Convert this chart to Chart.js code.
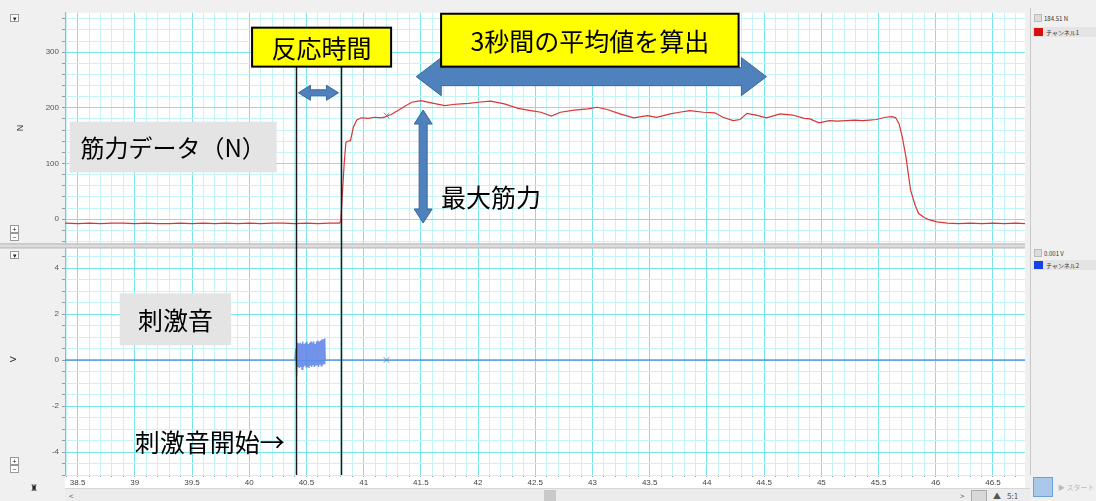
<!DOCTYPE html>
<html>
<head>
<meta charset="utf-8">
<script src="https://cdn.jsdelivr.net/npm/chart.js@4"></script>
<style>
  body { margin: 0; width: 1096px; height: 501px; overflow: hidden; background: #f0f0f0; font-family: "Noto Sans CJK JP", "Noto Sans", sans-serif; position: relative; }
  #wrap { position: absolute; left: 0; top: 5px; width: 1030px; height: 483px; }
  .side { position: absolute; left: 1030px; width: 66px; border-left: 1px solid #c8c8c8; background: #f0f0f0; }
  .dd { position: absolute; left: 3px; width: 6px; height: 6px; background: #dcdcdc; border: 1px solid #bbb; }
  .val { position: absolute; left: 13px; font-size: 6px; color: #333; white-space: nowrap; }
  .row { position: absolute; left: 1px; width: 65px; height: 10px; background: #e4e4e4; }
  .sq { position: absolute; left: 2px; top: 1px; width: 9px; height: 8px; }
  .name { position: absolute; left: 14px; top: 1px; font-size: 6px; color: #333; white-space: nowrap; }
  .btn { position: absolute; left: 10px; width: 7px; height: 6px; background: #fff; border: 1px solid #999; font-size: 7px; line-height: 6px; text-align: center; color: #222; }
  #scroll { position: absolute; left: 65px; top: 488px; width: 965px; height: 13px; background: #ececec; border-top: 1px solid #d6d6d6; font-size: 8px; color: #555; }
</style>
</head>
<body>
<div id="wrap"><canvas id="chart"></canvas></div>

<div class="btn" style="top:14px">▾</div>
<div class="btn" style="top:225px">+</div>
<div class="btn" style="top:233px">−</div>
<div class="btn" style="top:251px">▾</div>
<div class="btn" style="top:457px">+</div>
<div class="btn" style="top:465px">−</div>
<div style="position:absolute;left:30px;top:481px;font-size:9px;color:#222">♜</div>

<div class="side" style="top:8px;height:236px">
  <div class="dd" style="top:6px"></div>
  <div class="val" style="top:6px">184.51 N</div>
  <div class="row" style="top:19px"><div class="sq" style="background:#d41010"></div><div class="name">チャンネル1</div></div>
</div>
<div class="side" style="top:244px;height:231px">
  <div class="dd" style="top:5px"></div>
  <div class="val" style="top:5px">0.001 V</div>
  <div class="row" style="top:16px"><div class="sq" style="background:#1440e6"></div><div class="name">チャンネル2</div></div>
</div>
<div style="position:absolute;left:1030px;top:475px;width:66px;height:26px;background:#f0f0f0">
  <div style="position:absolute;left:3px;top:2px;width:18px;height:18px;background:#a9c8ea;border:1px solid #6e9fd6"></div>
  <div style="position:absolute;left:28px;top:7px;font-size:7px;color:#bbb;white-space:nowrap">▶ スタート</div>
</div>

<div id="scroll">
  <span style="position:absolute;left:4px;top:1px">&lt;</span>
  <div style="position:absolute;left:479px;top:1px;width:12px;height:11px;background:#c9c9c9"></div>
  <span style="position:absolute;left:895px;top:1px">&gt;</span>
  <div style="position:absolute;left:906px;top:1px;width:14px;height:10px;background:#d8d8d8;border:1px solid #aaa"></div>
  <span style="position:absolute;left:928px;top:1px">▲</span>
  <span style="position:absolute;left:942px;top:1px">5:1</span>
</div>

<script>
// time axis (s)
const xMin = 38.39;
const xMax = 46.78;
const xLabelTicks = [38.5, 39, 39.5, 40, 40.5, 41, 41.5, 42, 42.5, 43, 43.5, 44, 44.5, 45, 45.5, 46, 46.5];

// channel 1: force (N)
const forceTime = [38.39, 38.5, 38.6, 38.7, 38.8, 38.9, 39.0, 39.1, 39.2, 39.3, 39.4, 39.5, 39.6, 39.7,
  39.8, 39.9, 40.0, 40.1, 40.2, 40.3, 40.4, 40.5, 40.6, 40.7, 40.79,
  40.80, 40.83, 40.845, 40.86, 40.885, 40.91, 40.94, 40.98, 41.04, 41.1, 41.15, 41.19, 41.24, 41.30,
  41.36, 41.42, 41.5, 41.59, 41.71, 41.78, 41.85, 41.92, 42.0, 42.11, 42.23, 42.35, 42.46, 42.55,
  42.64, 42.72, 42.84, 42.96, 43.04, 43.13, 43.24, 43.36, 43.48, 43.56, 43.68, 43.76, 43.85, 43.97,
  44.07, 44.14, 44.23, 44.29, 44.35, 44.43, 44.52, 44.64, 44.75, 44.85, 44.9, 44.98, 45.07, 45.14,
  45.22, 45.29, 45.36, 45.42, 45.48, 45.56, 45.62, 45.65, 45.68, 45.71, 45.74, 45.78, 45.82, 45.85,
  45.9, 45.94, 46.01, 46.1, 46.2, 46.3, 46.4, 46.5, 46.6, 46.7, 46.78];
const forceValue = [-7, -8, -7, -8, -7, -7, -8, -7, -8, -8, -7, -8, -7, -8,
  -7, -8, -7, -8, -7, -7, -8, -7, -8, -7, -7,
  -3, 100, 138, 140, 141, 165, 178, 182, 181, 183, 182, 184, 188, 195,
  203, 210, 213, 209, 204, 206, 207, 208, 210, 212, 207, 199, 195, 192,
  185, 192, 196, 198, 201, 197, 189, 182, 186, 183, 189, 192, 195, 192,
  191, 183, 177, 179, 190, 187, 182, 189, 187, 181, 180, 173, 177, 176,
  177, 178, 177, 178, 179, 183, 184, 182, 171, 145, 111, 52, 25, 10,
  3, -1, -5, -7, -8, -7, -8, -7, -8, -7, -8];
const forceLabelTicks = [0, 100, 200, 300];

// channel 2: stimulus sound (V)
const soundTime = [38.39, 40.40, 40.408, 40.414, 40.42, 40.426, 40.432, 40.438, 40.444, 40.45, 40.456,
  40.462, 40.468, 40.474, 40.48, 40.486, 40.492, 40.498, 40.504, 40.51, 40.516, 40.522, 40.528,
  40.534, 40.54, 40.546, 40.552, 40.558, 40.564, 40.57, 40.576, 40.582, 40.588, 40.594, 40.60,
  40.606, 40.612, 40.618, 40.624, 40.63, 40.636, 40.642, 40.648, 40.654, 40.66, 40.664, 46.78];
const soundValue = [0, 0, 0.5, -0.7, 0.75, -0.3, 0.7, -0.35, 0.75, -0.3, 0.7,
  -0.4, 0.8, -0.3, 0.7, -0.25, 0.75, -0.3, 0.8, -0.3, 0.7, -0.35, 0.75,
  -0.25, 0.8, -0.3, 0.75, -0.2, 0.8, -0.3, 0.7, -0.25, 0.8, -0.2, 0.85,
  -0.3, 0.8, -0.2, 0.85, -0.25, 0.9, -0.2, 0.9, -0.15, 0.95, 0, 0];
const soundLabelTicks = [-4, -2, 0, 2, 4];

// cursor marks
const cursorTime = 41.2;
const cursorForce = 186;
const cursorSound = 0;

// annotation anchors (data units)
const reactionStart = 40.407;
const reactionEnd = 40.798;

const gridMajor = 'rgb(118,228,234)';
const gridMinor = 'rgb(196,244,246)';

function stepTicks(from, to, step) {
  const out = [];
  const n = Math.round((to - from) / step);
  for (let i = 0; i <= n; i++) out.push(Math.round((from + i * step) * 1000) / 1000);
  return out;
}
const isIn = (list, v) => list.some(t => Math.abs(t - v) < 1e-6);

const pairs = (xs, ys) => xs.map((x, i) => ({ x: x, y: ys[i] }));

function hArrow(ctx, x1, x2, y, head, hh, sh) {
  ctx.beginPath();
  ctx.moveTo(x1, y);
  ctx.lineTo(x1 + head, y - hh);
  ctx.lineTo(x1 + head, y - sh);
  ctx.lineTo(x2 - head, y - sh);
  ctx.lineTo(x2 - head, y - hh);
  ctx.lineTo(x2, y);
  ctx.lineTo(x2 - head, y + hh);
  ctx.lineTo(x2 - head, y + sh);
  ctx.lineTo(x1 + head, y + sh);
  ctx.lineTo(x1 + head, y + hh);
  ctx.closePath();
  ctx.fillStyle = '#4f81bd';
  ctx.fill();
  ctx.strokeStyle = '#3a6799';
  ctx.lineWidth = 1;
  ctx.stroke();
}
function vArrow(ctx, x, y1, y2, head, hh, sh) {
  ctx.beginPath();
  ctx.moveTo(x, y1);
  ctx.lineTo(x + hh, y1 + head);
  ctx.lineTo(x + sh, y1 + head);
  ctx.lineTo(x + sh, y2 - head);
  ctx.lineTo(x + hh, y2 - head);
  ctx.lineTo(x, y2);
  ctx.lineTo(x - hh, y2 - head);
  ctx.lineTo(x - sh, y2 - head);
  ctx.lineTo(x - sh, y1 + head);
  ctx.lineTo(x - hh, y1 + head);
  ctx.closePath();
  ctx.fillStyle = '#4f81bd';
  ctx.fill();
  ctx.strokeStyle = '#3a6799';
  ctx.lineWidth = 1;
  ctx.stroke();
}
function box(ctx, x1, y1, x2, y2, fill, border, text, size) {
  ctx.fillStyle = fill;
  ctx.fillRect(x1, y1, x2 - x1, y2 - y1);
  if (border) {
    ctx.strokeStyle = border;
    ctx.lineWidth = 2;
    ctx.strokeRect(x1, y1, x2 - x1, y2 - y1);
  }
  ctx.fillStyle = '#000';
  ctx.font = size + 'px "Noto Sans CJK JP"';
  ctx.textAlign = 'center';
  ctx.textBaseline = 'middle';
  ctx.fillText(text, (x1 + x2) / 2, (y1 + y2) / 2 + 1);
}

const decor = {
  id: 'decor',
  beforeDraw(chart) {
    const { ctx, chartArea } = chart;
    ctx.save();
    ctx.fillStyle = '#ffffff';
    ctx.fillRect(chartArea.left, chartArea.top, chartArea.right - chartArea.left, chart.height - chartArea.top);
    ctx.restore();
  },
  beforeDatasetsDraw(chart) {
    const { ctx, chartArea, scales } = chart;
    const y = scales.yN.bottom;
    ctx.save();
    ctx.fillStyle = '#dcdcdc';
    ctx.fillRect(0, y, chartArea.right, 5);
    ctx.fillStyle = '#b8b8b8';
    ctx.fillRect(0, y, chartArea.right, 1);
    ctx.fillRect(0, y + 4, chartArea.right, 1);
    ctx.restore();
  },
  afterDatasetsDraw(chart) {
    const { ctx, scales } = chart;
    const x = scales.x, yN = scales.yN, yV = scales.yV;
    ctx.save();

    // reaction time markers
    ctx.strokeStyle = '#1a1a1a';
    ctx.lineWidth = 1.5;
    [reactionStart, reactionEnd].forEach(t => {
      const px = Math.round(x.getPixelForValue(t)) + 0.5;
      ctx.beginPath();
      ctx.moveTo(px, yN.getPixelForValue(274));
      ctx.lineTo(px, yV.bottom);
      ctx.stroke();
    });

    // arrows
    hArrow(ctx, x.getPixelForValue(40.43), x.getPixelForValue(40.78), yN.getPixelForValue(227), 12, 7.5, 3);
    hArrow(ctx, x.getPixelForValue(41.46), x.getPixelForValue(44.52), yN.getPixelForValue(256), 25, 19, 9);
    vArrow(ctx, x.getPixelForValue(41.52), yN.getPixelForValue(196), yN.getPixelForValue(-7), 14, 9, 4);

    // labels
    box(ctx, x.getPixelForValue(40.025), yN.getPixelForValue(344), x.getPixelForValue(41.24), yN.getPixelForValue(274), '#ffff00', '#000', '反応時間', 25);
    box(ctx, x.getPixelForValue(41.677), yN.getPixelForValue(369), x.getPixelForValue(44.277), yN.getPixelForValue(274), '#ffff00', '#000', '3秒間の平均値を算出', 25);
    box(ctx, x.getPixelForValue(38.43), yN.getPixelForValue(175), x.getPixelForValue(40.24), yN.getPixelForValue(84), '#e4e4e4', null, '筋力データ（N）', 24);
    box(ctx, x.getPixelForValue(38.868), yV.getPixelForValue(2.9), x.getPixelForValue(39.842), yV.getPixelForValue(0.64), '#e4e4e4', null, '刺激音', 25);

    ctx.fillStyle = '#000';
    ctx.font = '25px "Noto Sans CJK JP"';
    ctx.textAlign = 'left';
    ctx.textBaseline = 'middle';
    ctx.fillText('最大筋力', x.getPixelForValue(41.677), yN.getPixelForValue(39));
    ctx.fillText('刺激音開始→', x.getPixelForValue(38.999), yV.getPixelForValue(-3.6));
    ctx.restore();
  }
};

const xTicks = stepTicks(38.4, 46.7, 0.1);
const nTicks = stepTicks(-40, 360, 20);
const vTicks = stepTicks(-5, 5, 0.5);

const ctx = document.getElementById('chart').getContext('2d');
const chart = new Chart(ctx, {
  type: 'line',
  data: {
    datasets: [
      {
        label: 'チャンネル1',
        data: pairs(forceTime, forceValue),
        yAxisID: 'yN',
        borderColor: 'rgb(220,52,52)',
        borderWidth: 1.2,
        pointRadius: 0
      },
      {
        label: 'チャンネル2',
        data: pairs(soundTime, soundValue),
        yAxisID: 'yV',
        borderColor: 'rgba(90,128,232,0.85)',
        borderWidth: 1.4,
        pointRadius: 0
      },
      {
        label: 'cursor1',
        data: [{ x: cursorTime, y: cursorForce }],
        yAxisID: 'yN',
        showLine: false,
        pointStyle: 'crossRot',
        pointRadius: 4,
        borderColor: '#8a8a8a',
        borderWidth: 1
      },
      {
        label: 'cursor2',
        data: [{ x: cursorTime, y: cursorSound }],
        yAxisID: 'yV',
        showLine: false,
        pointStyle: 'crossRot',
        pointRadius: 4,
        borderColor: '#8a8a8a',
        borderWidth: 1
      }
    ]
  },
  options: {
    responsive: true,
    maintainAspectRatio: false,
    animation: false,
    layout: { padding: 0 },
    plugins: { legend: { display: false }, tooltip: { enabled: false } },
    scales: {
      x: {
        type: 'linear',
        min: xMin,
        max: xMax,
        afterBuildTicks: s => { s.ticks = xTicks.map(v => ({ value: v })); },
        afterFit: s => { s.height = 13; },
        ticks: {
          autoSkip: false,
          maxRotation: 0,
          padding: 1,
          color: '#444',
          font: { size: 8, family: 'Liberation Sans' },
          callback: v => isIn(xLabelTicks, v) ? String(Math.round(v * 10) / 10) : ''
        },
        grid: {
          color: c => isIn(xLabelTicks, c.tick.value) ? gridMajor : gridMinor,
          tickColor: '#9a9a9a',
          tickLength: 2
        },
        border: { display: false }
      },
      yV: {
        type: 'linear',
        position: 'left',
        stack: 'panes',
        stackWeight: 232,
        min: -5,
        max: 5.07,
        afterBuildTicks: s => { s.ticks = vTicks.map(v => ({ value: v })); },
        afterFit: s => { s.width = 65; },
        title: { display: true, text: 'V', color: '#333', font: { size: 9 }, padding: { top: 8 } },
        ticks: {
          autoSkip: false,
          padding: 3,
          color: '#555',
          font: { size: 8, family: 'Liberation Sans' },
          callback: v => isIn(soundLabelTicks, v) ? String(v) : ''
        },
        grid: {
          color: c => (Math.abs(c.tick.value % 2) < 1e-6) ? gridMajor : gridMinor,
          tickColor: '#9a9a9a',
          tickLength: 3
        },
        border: { color: '#b0b0b0' }
      },
      yN: {
        type: 'linear',
        position: 'left',
        stack: 'panes',
        stackWeight: 231,
        min: -43.6,
        max: 370.7,
        afterBuildTicks: s => { s.ticks = nTicks.map(v => ({ value: v })); },
        afterFit: s => { s.width = 65; },
        title: { display: true, text: 'N', color: '#333', font: { size: 9 }, padding: { top: 15 } },
        ticks: {
          autoSkip: false,
          padding: 3,
          color: '#555',
          font: { size: 8, family: 'Liberation Sans' },
          callback: v => isIn(forceLabelTicks, v) ? String(v) : ''
        },
        grid: {
          color: c => isIn(forceLabelTicks, c.tick.value) ? gridMajor : gridMinor,
          tickColor: '#9a9a9a',
          tickLength: 3
        },
        border: { color: '#b0b0b0' }
      }
    }
  },
  plugins: [decor]
});
</script>
</body>
</html>
